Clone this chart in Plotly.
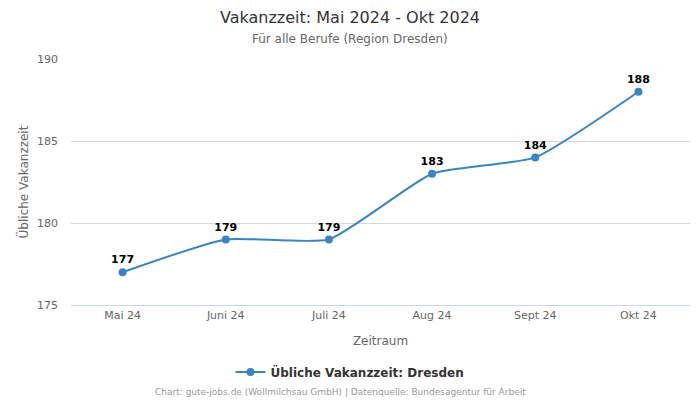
import plotly.graph_objects as go

categories = ["Mai 24", "Juni 24", "Juli 24", "Aug 24", "Sept 24", "Okt 24"]
values = [177, 179, 179, 183, 184, 188]
series_name = "Übliche Vakanzzeit: Dresden"
y_ticks = [175, 180, 185, 190]

FONT = "DejaVu Sans, Open Sans, sans-serif"

fig = go.Figure()
fig.add_trace(go.Scatter(
    x=categories, y=values, name=series_name,
    mode="lines+markers+text",
    line=dict(color="#3a84c1", width=2, shape="spline", smoothing=0.5),
    marker=dict(size=8, color="#3a84c1"),
    text=[str(v) for v in values], textposition="top center",
    textfont=dict(family=FONT, size=11, color="#000000", weight="bold"),
    cliponaxis=False,
))

PLOT_H = 246.0
def py(px):
    return (305 - px) / PLOT_H
def pxx(px):
    return (px - 71) / 619.0

fig.update_layout(
    width=700, height=400,
    margin=dict(l=71, r=10, t=59, b=95),
    paper_bgcolor="white", plot_bgcolor="white",
    font=dict(family=FONT, color="#666666"),
    showlegend=True,
    legend=dict(
        orientation="h", x=pxx(350), xanchor="center", y=py(372), yanchor="middle",
        font=dict(family=FONT, size=12, color="#333333", weight="bold"),
        itemwidth=30,
    ),
    xaxis=dict(
        type="category", range=[-0.5, 5.5],
        showgrid=False, showline=True, linecolor="#ccd6eb", linewidth=1,
        ticks="", tickfont=dict(size=11, color="#666666"),
        title=dict(text="Zeitraum", font=dict(size=12, color="#666666"), standoff=15),
    ),
    yaxis=dict(
        range=[175, 190], tickvals=y_ticks,
        showgrid=True, gridcolor="#d8d8d8", zeroline=False,
        tickfont=dict(size=11, color="#666666"), ticklabelstandoff=12,
        title=dict(text="Übliche Vakanzzeit", font=dict(size=12, color="#666666"), standoff=5),
    ),
    annotations=[
        dict(text="Vakanzzeit: Mai 2024 - Okt 2024", x=pxx(350), xref="paper", xanchor="center",
             y=py(17), yref="paper", yanchor="middle", showarrow=False,
             font=dict(family=FONT, size=16, color="#333333")),
        dict(text="Für alle Berufe (Region Dresden)", x=pxx(350), xref="paper", xanchor="center",
             y=py(39), yref="paper", yanchor="middle", showarrow=False,
             font=dict(family=FONT, size=12, color="#666666")),
        dict(text="Chart: gute-jobs.de (Wollmilchsau GmbH) | Datenquelle: Bundesagentur für Arbeit",
             x=pxx(340), xref="paper", xanchor="center", y=py(392), yref="paper", yanchor="middle",
             showarrow=False, font=dict(family=FONT, size=9, color="#999999")),
    ],
)

fig.write_html("out.html")
